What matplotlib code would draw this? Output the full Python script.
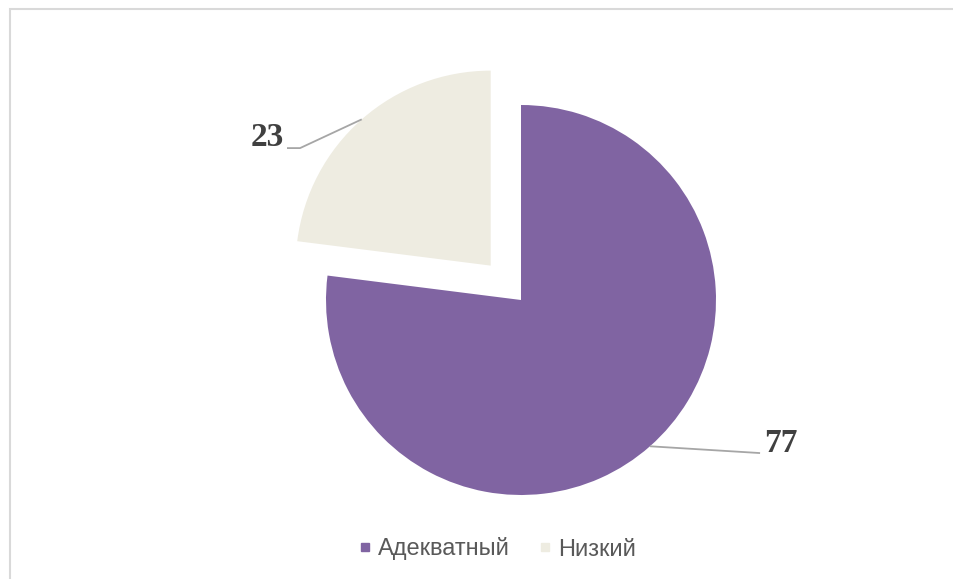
import matplotlib.pyplot as plt
import numpy as np
from matplotlib.lines import Line2D
from matplotlib.patches import Rectangle

# данные диаграммы
categories = ["Адекватный", "Низкий"]
values = [77, 23]
colors = ["#8064A2", "#EEECE1"]
explode = [0.0, 0.235]

W, H = 954, 579
CX, CY, R = 521, 300, 195  # центр и радиус круга в пикселях
L = 260

fig = plt.figure(figsize=(W / 100, H / 100), dpi=100)
fig.patch.set_facecolor("white")

# рамка области диаграммы (выходит за правый и нижний край)
fig.add_artist(Rectangle((10.5 / W, -0.1), 1.2, 1 - 9.5 / H + 0.1,
                         transform=fig.transFigure, fill=False,
                         ec="#D9D9D9", lw=1.5))

ax = fig.add_axes([(CX - L) / W, (H - CY - L) / H, 2 * L / W, 2 * L / H])

wedges, _ = ax.pie(values, colors=colors, explode=explode, startangle=90,
                   counterclock=False, radius=1.0)

lim = L / R
ax.set_xlim(-lim, lim)
ax.set_ylim(-lim, lim)
ax.set_aspect("equal")
ax.axis("off")

label_font = dict(family=["Liberation Serif", "DejaVu Serif"],
                  fontsize=24, fontweight="bold", color="#404040")
line_color = "#A6A6A6"

# подпись 77
w = wedges[0]
mid = np.deg2rad((w.theta1 + w.theta2) / 2)
sx, sy = np.cos(mid), np.sin(mid)
ax.plot([sx, 1.226], [sy, -0.785], color=line_color, lw=1.3,
        solid_capstyle="butt", clip_on=False)
ax.text(1.245, -0.735, str(values[0]), ha="left", va="center", **label_font)

# подпись 23
w = wedges[1]
mid = np.deg2rad((w.theta1 + w.theta2) / 2)
ox, oy = explode[1] * np.cos(mid), explode[1] * np.sin(mid)
sx, sy = ox + np.cos(mid), oy + np.sin(mid)
ax.plot([sx, -1.133, -1.2], [sy, 0.779, 0.779], color=line_color, lw=1.3,
        solid_capstyle="butt", clip_on=False)
ax.text(-1.215, 0.835, str(values[1]), ha="right", va="center", **label_font)

handles = [Line2D([], [], marker="s", ls="none", markersize=5.5,
                  markerfacecolor=c, markeredgecolor=c) for c in colors]
fig.legend(handles, categories, loc="center", bbox_to_anchor=(0.521, 1 - 549 / H),
           ncol=2, frameon=False, handlelength=0.6, handletextpad=0.25,
           columnspacing=1.2,
           prop={"family": ["Liberation Sans", "DejaVu Sans"], "size": 17},
           labelcolor="#595959")

fig.savefig("out.png", dpi=100)
